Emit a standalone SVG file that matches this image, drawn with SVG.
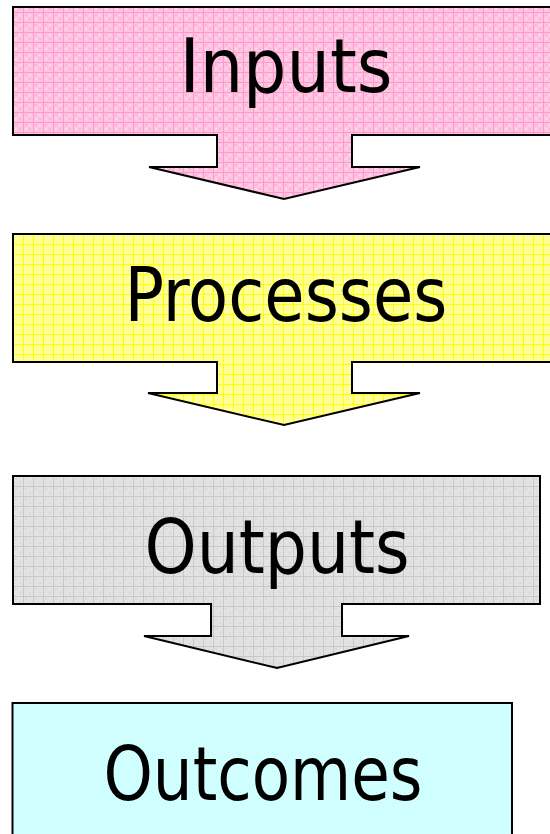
<svg xmlns="http://www.w3.org/2000/svg" width="550" height="834" viewBox="0 0 550 834">
  <defs>
    <pattern id="pinkGrid" patternUnits="userSpaceOnUse" width="10" height="10" x="3" y="2">
      <rect width="10" height="10" fill="#ffc4e2"/>
      <rect x="2" y="2" width="2" height="2" fill="#ffb0d8"/>
      <rect x="6" y="6" width="2" height="2" fill="#ffb0d8"/>
      <rect x="6" y="2" width="2" height="2" fill="#ffd6ec"/>
      <rect x="2" y="6" width="2" height="2" fill="#ffd6ec"/>
      <rect x="0" y="0" width="10" height="1" fill="#ff99cc"/>
      <rect x="0" y="0" width="1" height="10" fill="#ff99cc"/>
    </pattern>
    <pattern id="yellowGrid" patternUnits="userSpaceOnUse" width="10" height="10" x="3" y="4">
      <rect width="10" height="10" fill="#ffff99"/>
      <rect x="2" y="2" width="2" height="2" fill="#ffff80"/>
      <rect x="6" y="6" width="2" height="2" fill="#ffff80"/>
      <rect x="0" y="0" width="10" height="1" fill="#ffff00"/>
      <rect x="0" y="0" width="1" height="10" fill="#ffff00"/>
    </pattern>
    <pattern id="grayGrid" patternUnits="userSpaceOnUse" width="10" height="10" x="3" y="6">
      <rect width="10" height="10" fill="#e2e2e2"/>
      <rect x="2" y="2" width="2" height="2" fill="#d9d9d9"/>
      <rect x="6" y="6" width="2" height="2" fill="#d9d9d9"/>
      <rect x="0" y="0" width="10" height="1" fill="#c8c8c8"/>
      <rect x="0" y="0" width="1" height="10" fill="#c8c8c8"/>
    </pattern>
    <pattern id="cyanDither" patternUnits="userSpaceOnUse" width="4" height="4">
      <rect width="4" height="4" fill="#d2ffff"/>
      <rect x="0" y="0" width="1" height="1" fill="#c4f8f8"/>
      <rect x="2" y="2" width="1" height="1" fill="#c4f8f8"/>
    </pattern>
  </defs>
  <style>
    .shape { stroke: #000000; stroke-width: 2; stroke-linejoin: miter; }
    .label { font-family: "DejaVu Sans Condensed", "DejaVu Sans", Tahoma, sans-serif; font-size: 75px; fill: #000000; text-anchor: middle; }
  </style>

  <g id="inputs">
    <path class="shape" fill="url(#pinkGrid)" d="M13,7 H560 V135 H352 V167 H420 L284,199 L149,167 H217 V135 H13 Z"/>
    <text class="label" x="286" y="92" textLength="213" lengthAdjust="spacingAndGlyphs">Inputs</text>
  </g>

  <g id="processes">
    <path class="shape" fill="url(#yellowGrid)" d="M13,234 H560 V362 H352 V393 H420 L284,425 L148,393 H217 V362 H13 Z"/>
    <text class="label" x="286" y="321" textLength="323" lengthAdjust="spacingAndGlyphs">Processes</text>
  </g>

  <g id="outputs">
    <path class="shape" fill="url(#grayGrid)" d="M13,476 H540 V604 H342 V636 H409 L277,668 L144,636 H211 V604 H13 Z"/>
    <text class="label" x="277" y="573" textLength="265" lengthAdjust="spacingAndGlyphs">Outputs</text>
  </g>

  <g id="outcomes">
    <rect class="shape" fill="url(#cyanDither)" x="12.5" y="703" width="499.5" height="140"/>
    <text class="label" x="263" y="800" textLength="319" lengthAdjust="spacingAndGlyphs">Outcomes</text>
  </g>

  <g id="connectors"/>
</svg>
